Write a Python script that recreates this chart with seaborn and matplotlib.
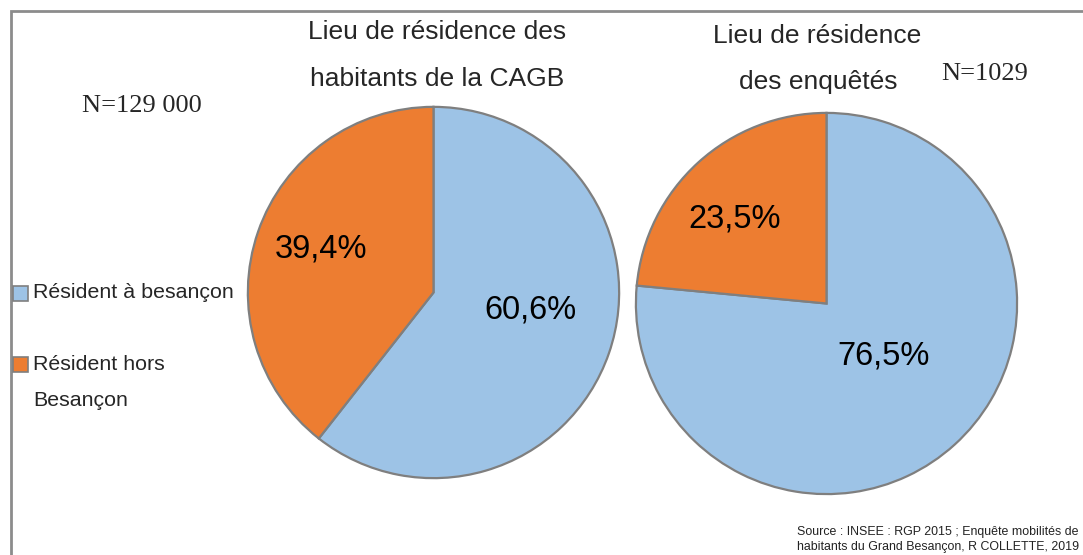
import numpy as np
import matplotlib
matplotlib.use('Agg')
import matplotlib.pyplot as plt
from matplotlib.patches import Rectangle
import seaborn as sns

# data
categories = ['Résident à besançon', 'Résident hors\nBesançon']
cagb_values = [60.6, 39.4]
enquete_values = [76.5, 23.5]
titles = [['Lieu de résidence des', 'habitants de la CAGB'],
          ['Lieu de résidence', 'des enquêtés']]
n_labels = ['N=129 000', 'N=1029']
source = 'Source : INSEE : RGP 2015 ; Enquête mobilités de\nhabitants du Grand Besançon, R COLLETTE, 2019'

sns.set_theme(style='white')
plt.rcParams['font.family'] = ['Liberation Sans', 'DejaVu Sans']

colors = sns.color_palette(['#9DC3E6', '#ED7D31'])
edge = '#7f7f7f'

W, H = 1083, 555
fig = plt.figure(figsize=(W / 100, H / 100), dpi=100)


def px_axes(left, top, size):
    return fig.add_axes([left / W, 1 - (top + size) / H, size / W, size / H])


def draw_pie(ax, values, pct_dist, pct_shift):
    wedges, _ = ax.pie(values, colors=colors, startangle=90, counterclock=False,
                       wedgeprops=dict(edgecolor=edge, linewidth=1.6))
    for w, v, d, s in zip(wedges, values, pct_dist, pct_shift):
        mid = np.deg2rad((w.theta1 + w.theta2) / 2 + s)
        ax.text(d * np.cos(mid), d * np.sin(mid), f'{v:.1f}'.replace('.', ',') + '%',
                ha='center', va='center', fontsize=23.5, color='black')
    ax.set_xlim(-1.01, 1.01)
    ax.set_ylim(-1.01, 1.01)
    return wedges


ax1 = px_axes(246, 105, 375)
draw_pie(ax1, cagb_values, [0.53, 0.65], [9, -2])
ax2 = px_axes(634, 111, 385)
draw_pie(ax2, enquete_values, [0.41, 0.655], [5, 5])

# titles
fig.text(437 / W, 1 - 32 / H, titles[0][0], ha='center', va='center', fontsize=19)
fig.text(437 / W, 1 - 79 / H, titles[0][1], ha='center', va='center', fontsize=19)
fig.text(817 / W, 1 - 36 / H, titles[1][0], ha='center', va='center', fontsize=19)
fig.text(818 / W, 1 - 82 / H, titles[1][1], ha='center', va='center', fontsize=19)

# N labels
fig.text(82 / W, 1 - 106 / H, n_labels[0], ha='left', va='center', fontsize=19,
         family=['Liberation Serif', 'DejaVu Serif'])
fig.text(941 / W, 1 - 74 / H, n_labels[1], ha='left', va='center', fontsize=19,
         family=['Liberation Serif', 'DejaVu Serif'])

# legend (square aligned with first line of each label)
leg_y = [293, 364]
for cat, col, y in zip(categories, colors, leg_y):
    fig.patches.append(Rectangle((13 / W, 1 - (y + 7.5) / H), 15 / W, 15 / H,
                                 transform=fig.transFigure, facecolor=col,
                                 edgecolor=edge, linewidth=1.2))
    for i, line in enumerate(cat.split('\n')):
        fig.text(33 / W, 1 - (y + 37 * i) / H, line, ha='left', va='center', fontsize=15.4)

# source
fig.text(797 / W, 2 / H, source, ha='left', va='bottom', fontsize=8.9,
         linespacing=1.3, color='#222222')

# frame
fig.patches.append(Rectangle((11 / W, -0.1), 1.2, 1 - 11 / H + 0.1, transform=fig.transFigure,
                             fill=False, edgecolor='#8c8c8c', linewidth=2, zorder=0))

fig.savefig('out.png', dpi=100)
